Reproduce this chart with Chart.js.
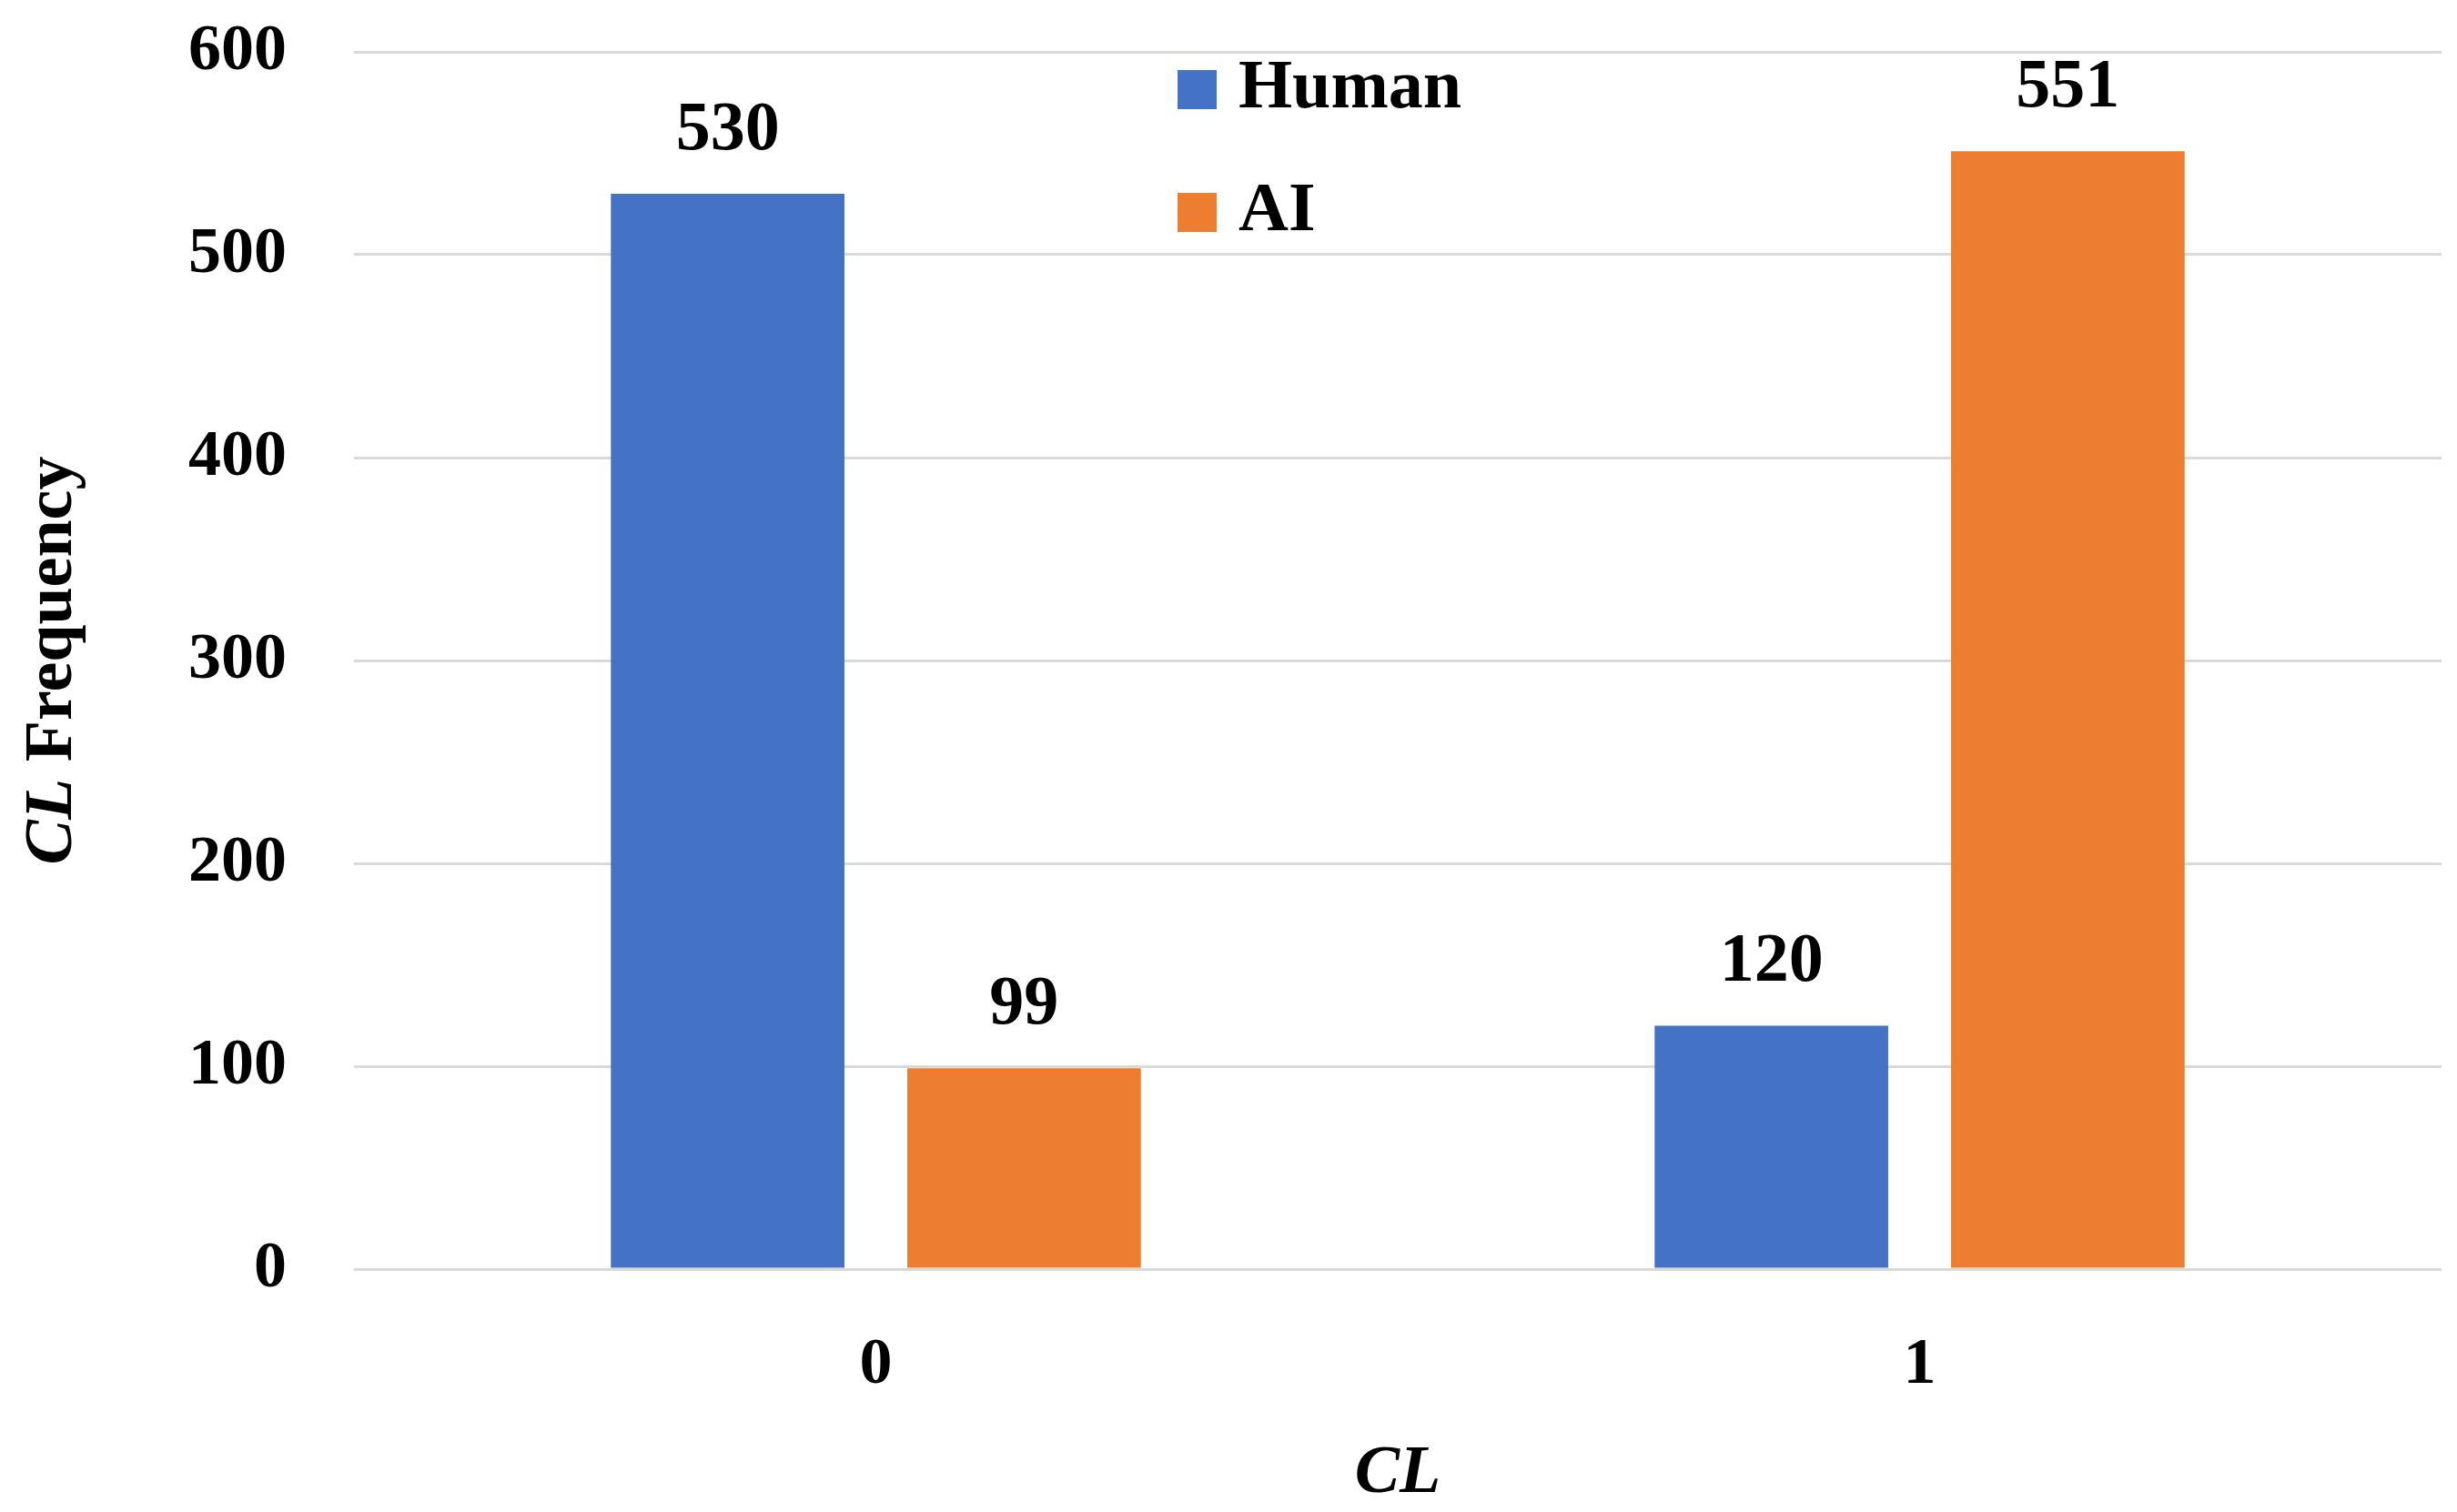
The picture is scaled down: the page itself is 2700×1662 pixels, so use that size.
<!DOCTYPE html>
<html>
<head>
<meta charset="utf-8">
<script src="https://cdn.jsdelivr.net/npm/chart.js@4/dist/chart.umd.min.js"></script>
<style>
  html, body { margin: 0; padding: 0; background: #fff; }
  canvas { display: block; }
</style>
</head>
<body>
<canvas id="graficoCL" width="2700" height="1662"></canvas>
<script>
const categorias = ["0", "1"];
const humanos = [530, 120];
const ia = [99, 551];
const ticksY = [0, 100, 200, 300, 400, 500, 600];

const azul = "#4472C4";
const naranja = "#ED7D31";
const fuente = "'Liberation Serif', 'Times New Roman', serif";

// etiquetas de valor encima de cada barra
const etiquetasBarras = {
  id: "etiquetasBarras",
  afterDatasetsDraw(chart) {
    const ctx = chart.ctx;
    ctx.save();
    ctx.font = "bold 76px " + fuente;
    ctx.fillStyle = "#000";
    ctx.textAlign = "center";
    ctx.textBaseline = "alphabetic";
    chart.data.datasets.forEach((ds, i) => {
      chart.getDatasetMeta(i).data.forEach((bar, j) => {
        ctx.fillText(String(ds.data[j]), bar.x, bar.y - 49);
      });
    });
    ctx.restore();
  },
};

// leyenda dentro del area del grafico + titulos de ejes
const leyendaYTitulos = {
  id: "leyendaYTitulos",
  afterDraw(chart) {
    const ctx = chart.ctx;
    const area = chart.chartArea;
    ctx.save();
    ctx.textBaseline = "alphabetic";
    ctx.textAlign = "left";
    ctx.font = "bold 76px " + fuente;
    chart.data.datasets.forEach((ds, i) => {
      const base = 118 + i * 135;
      ctx.fillStyle = ds.backgroundColor;
      ctx.fillRect(area.left + 905, base - 41, 43, 43);
      ctx.fillStyle = "#000";
      ctx.fillText(ds.label, area.left + 972, base);
    });

    // titulo eje Y: "CL Frequency"
    const cy = (area.top + area.bottom) / 2;
    ctx.translate(78, cy);
    ctx.rotate(-Math.PI / 2);
    ctx.font = "italic bold 74px " + fuente;
    const w1 = ctx.measureText("CL").width;
    ctx.font = "bold 74px " + fuente;
    const w2 = ctx.measureText(" Frequency").width;
    let x0 = -(w1 + w2) / 2;
    ctx.font = "italic bold 74px " + fuente;
    ctx.fillText("CL", x0, 0);
    ctx.font = "bold 74px " + fuente;
    ctx.fillText(" Frequency", x0 + w1, 0);
    ctx.setTransform(1, 0, 0, 1, 0, 0);

    // titulo eje X: "CL"
    ctx.font = "italic bold 74px " + fuente;
    ctx.textAlign = "center";
    ctx.fillText("CL", (area.left + area.right) / 2, 1640);
    ctx.restore();
  },
};

const ctx = document.getElementById("graficoCL").getContext("2d");
new Chart(ctx, {
  type: "bar",
  data: {
    labels: categorias,
    datasets: [
      {
        label: "Human",
        data: humanos,
        backgroundColor: azul,
        categoryPercentage: 0.568,
        barPercentage: 0.788,
      },
      {
        label: "AI",
        data: ia,
        backgroundColor: naranja,
        categoryPercentage: 0.568,
        barPercentage: 0.788,
      },
    ],
  },
  options: {
    responsive: false,
    devicePixelRatio: 1,
    animation: false,
    layout: { padding: { top: 57, right: 17, left: 0, bottom: 0 } },
    plugins: {
      legend: { display: false },
      tooltip: { enabled: false },
    },
    scales: {
      x: {
        grid: { display: false },
        border: { display: false },
        ticks: {
          font: { family: fuente, size: 72, weight: "bold" },
          color: "#000",
          padding: 55,
        },
        afterFit: (scale) => {
          scale.height = 267;
          scale.paddingLeft = 0;
          scale.paddingRight = 0;
        },
      },
      y: {
        min: 0,
        max: 600,
        afterBuildTicks: (scale) => {
          scale.ticks = ticksY.map((v) => ({ value: v }));
        },
        grid: { color: "#d9d9d9", lineWidth: 3, drawTicks: false },
        border: { display: false },
        ticks: {
          font: { family: fuente, size: 72, weight: "bold" },
          color: "#000",
          padding: 74,
        },
        afterFit: (scale) => {
          scale.width = 389;
          scale.paddingTop = 0;
          scale.paddingBottom = 0;
        },
      },
    },
  },
  plugins: [etiquetasBarras, leyendaYTitulos],
});
</script>
</body>
</html>
